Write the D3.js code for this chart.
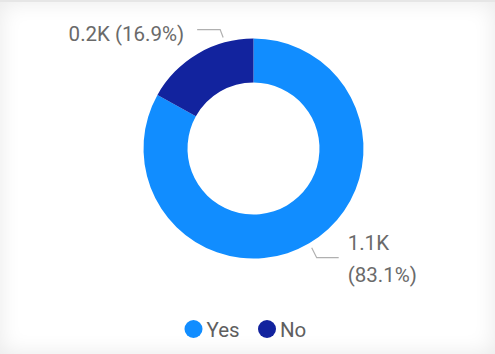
<!DOCTYPE html>
<meta charset="utf-8">
<style>
  body { margin: 0; background: #fff; }
  #card {
    position: absolute; left: 0; top: 0; width: 495px; height: 354px;
    box-shadow: inset 0 0 22px rgba(0,0,0,0.09);
    border-top: 2px solid #e6e6e6; box-sizing: border-box;
  }
  svg { position: absolute; left: 0; top: 0; }
  text { font-family: Roboto, "Open Sans", sans-serif; }
</style>
<script src="https://d3js.org/d3.v7.min.js"></script>
<div id="card"></div>
<svg id="chart" width="495" height="354"></svg>
<script>
const categories = ["Yes", "No"];
const values = [1.1, 0.2];          // thousands, as shown
const shares = [83.1, 16.9];        // percent of total
const colors = ["#118DFF", "#12239E"];

const svg = d3.select("#chart");
const cx = 253.5, cy = 148.5;
const outerR = 110, innerR = 66;

const pie = d3.pie().sort(null).value((d, i) => shares[i]);
const arcs = pie(categories);
const arc = d3.arc().innerRadius(innerR).outerRadius(outerR);

const g = svg.append("g").attr("transform", `translate(${cx},${cy})`);
g.selectAll("path")
  .data(arcs)
  .join("path")
  .attr("d", arc)
  .attr("fill", (d, i) => colors[i]);

const labelColor = "#6a6a6a";
const lineColor = "#b0b0b0";
const polar = (ang, r) => [Math.sin(ang) * r, -Math.cos(ang) * r];
const deg = Math.PI / 180;

// "No" label — upper left
{
  const p0 = polar(-15.3 * deg, outerR + 5);
  const p1 = [p0[0] - 3, p0[1] - 8];
  const p2 = [p1[0] - 23, p1[1]];
  g.append("polyline")
    .attr("points", [p0, p1, p2].map(p => p.join(",")).join(" "))
    .attr("fill", "none").attr("stroke", lineColor).attr("stroke-width", 1.2);
  g.append("text")
    .attr("x", p2[0] - 13).attr("y", p2[1] + 11)
    .attr("text-anchor", "end")
    .attr("fill", labelColor).attr("font-size", 20.5)
    .text(`${values[1]}K (${shares[1]}%)`);
}

// "Yes" label — lower right
{
  const p0 = polar(149.6 * deg, outerR + 5);
  const p1 = [p0[0] + 5, p0[1] + 10];
  const p2 = [p1[0] + 22, p1[1]];
  g.append("polyline")
    .attr("points", [p0, p1, p2].map(p => p.join(",")).join(" "))
    .attr("fill", "none").attr("stroke", lineColor).attr("stroke-width", 1.2);
  const t = g.append("text")
    .attr("x", p2[0] + 9).attr("y", p2[1] - 8)
    .attr("fill", labelColor).attr("font-size", 20.5);
  t.append("tspan").text(`${values[0]}K`);
  t.append("tspan").attr("x", p2[0] + 9).attr("dy", 32).text(`(${shares[0]}%)`);
}

// legend
const legend = svg.append("g").attr("transform", "translate(0,329)");
const legendX = [193.5, 267];
categories.forEach((c, i) => {
  legend.append("circle").attr("cx", legendX[i]).attr("cy", 0).attr("r", 9).attr("fill", colors[i]);
  legend.append("text").attr("x", legendX[i] + 13).attr("y", 7.5)
    .attr("fill", "#5f5f5f").attr("font-size", 20.5).text(c);
});
</script>
